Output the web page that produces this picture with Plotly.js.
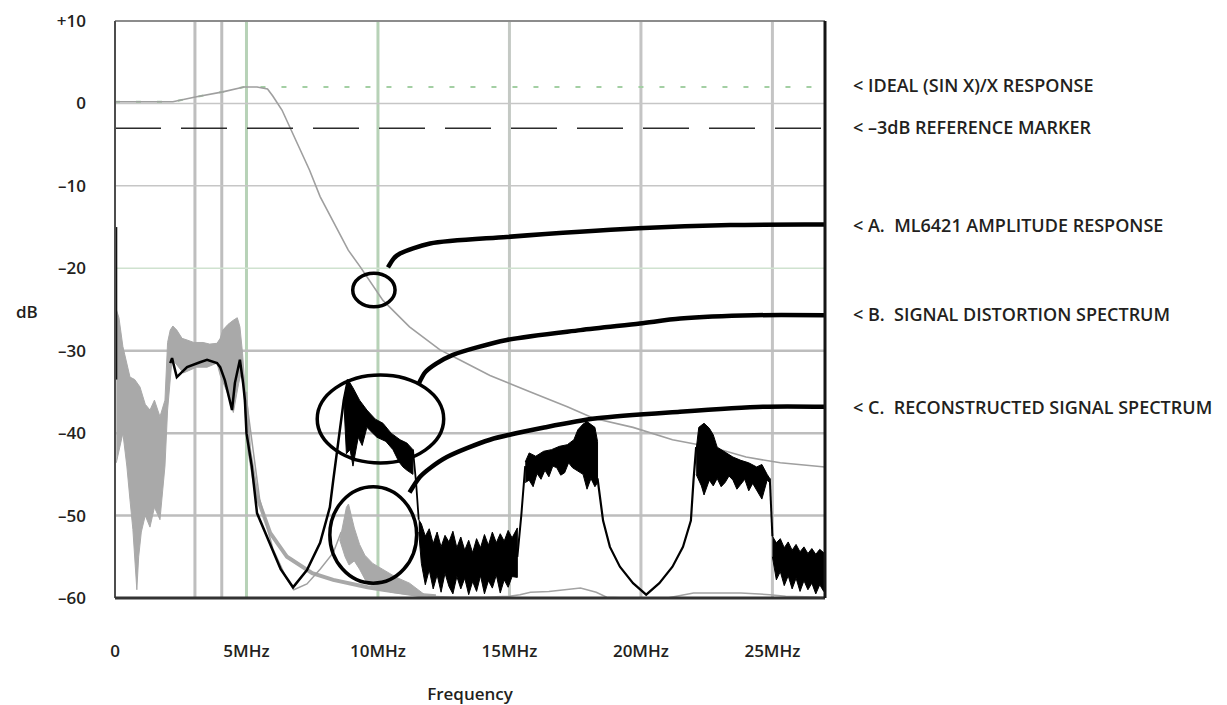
<!DOCTYPE html>
<html>
<head>
<meta charset="utf-8">
<script src="https://cdn.plot.ly/plotly-3.0.1.min.js"></script>
<style>html,body{margin:0;padding:0;background:#fff;}#chart{width:1227px;height:705px;}</style>
</head>
<body>
<div id="chart"></div>
<script>
// ---------- axis / tick data ----------
const xTickVals = [0, 5, 10, 15, 20, 25];
const xTickText = ['0', '5MHz', '10MHz', '15MHz', '20MHz', '25MHz'];
const yTickVals = [10, 0, -10, -20, -30, -40, -50, -60];
const yTickText = ['+10', '0', '–10', '–20', '–30', '–40', '–50', '–60'];

// ---------- reference lines ----------
const idealX = [0, 2.2, 3.1, 4.1, 4.9, 5.5, 27];
const idealY = [0.2, 0.2, 0.8, 1.4, 2.0, 2.0, 2.0];
const refX = [0, 27];
const refY = [-3, -3];

// ---------- A. ML6421 amplitude response ----------
const ampX = [0, 2.2, 3.1, 4.1, 4.9, 5.4, 5.8, 6.0, 6.35, 6.65, 7.03, 7.4, 7.8, 8.06, 8.87, 9.32, 10.19, 11.2, 12.36, 13.1, 14.26, 15.8, 17.2, 18.2, 19.7, 21.2, 22.7, 24.0, 25.3, 27.0];
const ampY = [0.2, 0.2, 0.8, 1.4, 2.0, 2.0, 1.75, 0.9, -0.8, -2.9, -5.6, -8.1, -11.3, -12.9, -17.8, -19.8, -23.9, -27.1, -29.9, -31.1, -33.0, -35.0, -36.8, -38.2, -39.3, -40.8, -41.7, -42.9, -43.6, -44.1];

// ---------- grey spectrum (0-5 MHz band) ----------
const greyUpX = [0.05, 0.15, 0.3, 0.45, 0.57, 0.75, 0.95, 1.15, 1.33, 1.5, 1.71, 1.9, 2.0, 2.1, 2.2, 2.35, 2.55, 2.74, 3.0, 3.35, 3.6, 3.88, 4.0, 4.1, 4.3, 4.5, 4.65, 4.75, 4.85, 4.95];
const greyUpY = [-25, -26, -29.5, -31.5, -33.2, -33.5, -34.4, -36.5, -37.2, -36.0, -38.0, -36.0, -29.0, -27.5, -27.0, -27.5, -28.5, -28.7, -29.0, -29.0, -29.2, -29.1, -28.5, -27.5, -26.8, -26.3, -26.0, -27.1, -30.3, -34.8];
const greyLoX = [0.05, 0.15, 0.3, 0.45, 0.57, 0.68, 0.76, 0.83, 0.9, 1.0, 1.15, 1.33, 1.5, 1.71, 1.9, 2.0, 2.17, 2.6, 3.1, 3.5, 3.88, 4.0, 4.26, 4.5, 4.7, 4.83, 4.95];
const greyLoY = [-43.6, -42, -40, -44, -48.1, -51.7, -55, -59, -55, -52, -50, -51.4, -49, -50.5, -44, -37.2, -31, -32.7, -32, -32, -31.5, -33, -35, -37.5, -34, -32.3, -36];

// grey decays after 5 MHz
const greyThickX = [4.95, 5.1, 5.4, 5.9, 6.54, 7.5, 8.3, 9.0, 9.6, 10.2, 10.8, 11.5, 12.2];
const greyThickY = [-35, -42, -47.7, -52.1, -55.0, -57.0, -57.8, -58.3, -58.7, -59.0, -59.3, -59.6, -59.8];
const greyThinX = [5.0, 5.5, 6.0, 6.5, 6.8, 7.3, 7.8, 8.3, 8.6];
const greyThinY = [-36, -48, -54, -57.5, -59, -58.3, -56.5, -54.5, -52];
const bumpUpX = [8.55, 8.7, 8.8, 8.88, 8.95, 9.1, 9.3, 9.5, 9.8, 10.2, 10.7, 11.2, 11.9];
const bumpUpY = [-53, -50.5, -49.0, -48.6, -49.6, -51.5, -53.5, -54.8, -55.8, -56.6, -57.5, -58.2, -59.8];
const bumpLoX = [8.55, 8.75, 8.9, 9.1, 9.3, 9.6, 10.5, 11.9];
const bumpLoY = [-53, -55, -56, -55.5, -56.5, -58.3, -59.3, -59.9];
const greyFloorX = [11.9, 13.0, 14.0, 15.0, 15.4, 15.8, 16.5, 17.7, 18.3, 18.7, 19.5, 21.0, 22.0, 23.0, 23.8, 24.9, 25.5, 27.0];
const greyFloorY = [-59.8, -59.9, -59.9, -59.8, -59.6, -59.3, -59.2, -58.8, -59.3, -59.9, -60, -60, -59.4, -59.4, -59.4, -59.6, -59.8, -59.9];

// ---------- black spectrum ----------
const spikeX = [0.04, 0.04];
const spikeY = [-15, -33.5];
const blackX = [2.1, 2.17, 2.35, 2.74, 3.23, 3.5, 3.88, 4.0, 4.18, 4.45, 4.56, 4.68, 4.75, 4.87, 4.94, 5.0, 5.2, 5.4, 5.9, 6.3, 6.77, 7.3, 7.8, 8.17, 8.3, 8.44, 8.56, 8.7, 8.86];
const blackY = [-31.5, -30.9, -33.2, -32.0, -31.4, -31.1, -31.5, -32.0, -33.6, -37.2, -33.9, -32.0, -31.1, -33.9, -36.0, -40.0, -44.0, -49.7, -53.5, -56.5, -58.7, -56.6, -53.3, -49.0, -45.7, -42.4, -39.6, -36.0, -33.5];
// peak band around 9-11 MHz
const pkUpX = [8.7, 8.86, 9.05, 9.3, 9.58, 9.9, 10.19, 10.5, 10.84, 11.1, 11.33];
const pkUpY = [-36, -33.5, -34.5, -36.0, -37.2, -38.3, -38.8, -40.0, -40.8, -41.2, -42.0];
const pkLoX = [8.7, 8.8, 8.94, 9.05, 9.25, 9.4, 9.58, 9.8, 9.96, 10.3, 10.57, 10.8, 10.95, 11.1, 11.33];
const pkLoY = [-36, -42.5, -42.0, -44.0, -40.5, -41.5, -39.3, -40.0, -40.5, -41.0, -42.0, -43.5, -44.1, -44.5, -45.0];
const dropAX = [11.33, 11.45, 11.55];
const dropAY = [-42.0, -46.0, -50.5];
// noise floor 11.5-15.3 MHz
const nb1X = [11.55, 11.65, 11.8, 11.95, 12.1, 12.25, 12.4, 12.55, 12.7, 12.85, 13.0, 13.15, 13.3, 13.45, 13.6, 13.75, 13.9, 14.05, 14.2, 14.35, 14.5, 14.65, 14.8, 14.95, 15.1, 15.3];
const nb1UpY = [-50.5, -51.0, -52.5, -51.6, -53.4, -52.0, -53.8, -52.4, -53.2, -51.9, -53.9, -52.6, -54.2, -53.0, -54.5, -52.8, -53.9, -52.3, -53.6, -52.0, -53.3, -52.2, -53.1, -51.8, -52.7, -51.5];
const nb1LoY = [-52.0, -55.8, -58.4, -56.6, -58.9, -57.2, -59.3, -57.0, -58.6, -59.5, -57.4, -58.9, -57.6, -59.6, -58.0, -59.2, -57.3, -59.5, -57.9, -58.8, -57.2, -59.4, -57.8, -58.7, -57.4, -57.5];
const riseX = [15.3, 15.45, 15.6];
const riseY = [-55, -50, -44];
// band 15.6-18.35 MHz
const nb2UpX = [15.6, 15.75, 16.0, 16.3, 16.6, 16.9, 17.2, 17.45, 17.6, 17.8, 17.95, 18.1, 18.25, 18.35];
const nb2UpY = [-43.5, -42.4, -42.8, -42.2, -42.0, -41.6, -41.4, -40.8, -39.6, -38.9, -38.6, -38.9, -39.3, -41.0];
const nb2LoX = [15.6, 15.75, 15.9, 16.05, 16.2, 16.35, 16.5, 16.65, 16.8, 16.95, 17.1, 17.25, 17.4, 17.6, 17.8, 17.95, 18.1, 18.25, 18.35];
const nb2LoY = [-46, -45.7, -46.5, -44.9, -45.6, -44.5, -45.3, -44.0, -44.2, -45.1, -44.8, -43.6, -44.2, -44.6, -45.0, -46.8, -45.5, -46.5, -46.0];
// sinc lobe 18.3-22.1 MHz
const lobeX = [18.35, 18.56, 18.82, 19.2, 19.7, 20.2, 20.7, 21.2, 21.6, 21.9, 22.0, 22.1];
const lobeY = [-45.5, -50.6, -53.8, -56.2, -58.2, -59.6, -58.2, -56.2, -53.8, -50.6, -45.7, -41.7];
// band 22.1-24.9 MHz
const nb3UpX = [22.1, 22.2, 22.4, 22.6, 22.75, 22.9, 23.2, 23.5, 23.8, 24.1, 24.4, 24.6, 24.8, 24.9];
const nb3UpY = [-42.0, -39.3, -38.8, -39.4, -40.2, -41.7, -42.3, -42.9, -43.3, -43.6, -44.1, -43.8, -45.0, -45.5];
const nb3LoX = [22.1, 22.3, 22.4, 22.6, 22.75, 22.9, 23.05, 23.2, 23.35, 23.5, 23.65, 23.8, 23.95, 24.1, 24.25, 24.4, 24.6, 24.8, 24.9];
const nb3LoY = [-45.0, -46.4, -47.5, -45.7, -46.4, -45.5, -46.5, -46.0, -45.2, -45.7, -46.8, -46.2, -45.6, -47.0, -46.1, -46.9, -48.0, -45.7, -46.0];
const dropBX = [24.9, 24.95, 25.0];
const dropBY = [-45.5, -49.0, -52.5];
// noise floor 25-27 MHz
const nb4X = [25.0, 25.15, 25.3, 25.45, 25.6, 25.75, 25.9, 26.05, 26.2, 26.35, 26.5, 26.65, 26.8, 26.95, 27.0];
const nb4UpY = [-52.5, -53.3, -52.8, -53.9, -53.2, -54.2, -53.5, -54.4, -53.8, -54.6, -54.0, -54.7, -54.1, -54.5, -54.3];
const nb4LoY = [-55, -57.8, -56.8, -58.5, -57.3, -58.9, -57.6, -59.2, -57.9, -59.0, -58.2, -59.5, -58.4, -59.2, -58.5];

// ---------- call-out marks ----------
const ellipseNames = ['A', 'B', 'C'];
const ellipseX0 = [9.04, 7.69, 8.17];
const ellipseX1 = [10.65, 12.5, 11.47];
const ellipseY0 = [-20.6, -32.95, -46.5];
const ellipseY1 = [-24.66, -43.62, -58.2];
const leaderAX = [10.38, 10.6, 10.84, 11.98, 14.9, 19.9, 23.4, 27.0];
const leaderAY = [-19.9, -18.8, -18.2, -17.0, -16.2, -15.15, -14.75, -14.7];
const leaderBX = [11.55, 11.8, 12.2, 12.85, 14.9, 17.7, 19.96, 21.5, 24.3, 27.0];
const leaderBY = [-34.0, -32.6, -31.6, -30.5, -28.7, -27.5, -26.7, -26.1, -25.7, -25.7];
const leaderCX = [11.2, 11.6, 12.0, 12.62, 14.26, 16.43, 18.33, 21.48, 24.64, 27.0];
const leaderCY = [-47.2, -45.3, -44.2, -42.9, -40.8, -39.25, -38.2, -37.4, -36.8, -36.8];

const labelTexts = ['< IDEAL (SIN X)/X RESPONSE', '< –3dB REFERENCE MARKER', '< A.  ML6421 AMPLITUDE RESPONSE', '< B.  SIGNAL DISTORTION SPECTRUM', '< C.  RECONSTRUCTED SIGNAL SPECTRUM'];
const labelY = [2.2, -2.9, -14.8, -25.6, -36.8];

// grid lines
const vGridX = [3.04, 4.06, 5, 10, 15, 20, 25];
const vGridColor = ['#bebebe', '#bebebe', '#b7d2b7', '#b7d2b7', '#c4c9c4', '#c4c4c4', '#c4c4c4'];
const hGridY = [0, -10, -20, -30, -40, -50];
const hGridColor = ['#c6c6c6', '#c6c6c6', '#cfe2cf', '#bdbdbd', '#bdbdbd', '#bdbdbd'];
const hGridWidth = [1.5, 1.5, 1.5, 2.5, 2.5, 2.5];

// ---------- build ----------
const FONT = 'Open Sans, sans-serif';
const TXT = '#231f20';

function line(x, y, color, width, extra) {
  return Object.assign({x: x, y: y, type: 'scatter', mode: 'lines', hoverinfo: 'skip', showlegend: false,
    line: {color: color, width: width}}, extra || {});
}
function band(ux, uy, lx, ly, color) {
  return {x: ux.concat(lx.slice().reverse()), y: uy.concat(ly.slice().reverse()), type: 'scatter', mode: 'lines',
    fill: 'toself', fillcolor: color, line: {color: color, width: 1}, hoverinfo: 'skip', showlegend: false};
}

const traces = [
  band(greyUpX, greyUpY, greyLoX, greyLoY, '#a9a9a9'),
  line(greyThickX, greyThickY, '#a8a8a8', 4),
  line(greyThinX, greyThinY, '#a0a0a0', 1.5),
  band(bumpUpX, bumpUpY, bumpLoX, bumpLoY, '#a9a9a9'),
  line(greyFloorX, greyFloorY, '#a3a3a3', 1.5),
  line(idealX, idealY, '#a3cfa3', 2, {line: {color: '#a3cfa3', width: 2, dash: '5px,16px'}}),
  line(ampX, ampY, '#9f9f9f', 1.6),
  line(refX, refY, '#2b2b2b', 1.5, {line: {color: '#2b2b2b', width: 1.5, dash: '46px,20px'}}),
  line(spikeX, spikeY, '#111111', 2.5),
  line(blackX, blackY, '#000000', 2.5),
  band(pkUpX, pkUpY, pkLoX, pkLoY, '#000000'),
  line(dropAX, dropAY, '#000000', 1.8),
  band(nb1X, nb1UpY, nb1X, nb1LoY, '#000000'),
  line(riseX, riseY, '#000000', 2),
  band(nb2UpX, nb2UpY, nb2LoX, nb2LoY, '#000000'),
  line(lobeX, lobeY, '#000000', 2.2),
  band(nb3UpX, nb3UpY, nb3LoX, nb3LoY, '#000000'),
  line(dropBX, dropBY, '#000000', 2),
  band(nb4X, nb4UpY, nb4X, nb4LoY, '#000000'),
  line(leaderAX, leaderAY, '#000000', 4.5, {line: {color: '#000', width: 4.5, shape: 'spline', smoothing: 0.8}, cliponaxis: false}),
  line(leaderBX, leaderBY, '#000000', 4.5, {line: {color: '#000', width: 4.5, shape: 'spline', smoothing: 0.8}, cliponaxis: false}),
  line(leaderCX, leaderCY, '#000000', 4.5, {line: {color: '#000', width: 4.5, shape: 'spline', smoothing: 0.8}, cliponaxis: false})
];

const shapes = [];
vGridX.forEach((gx, i) => shapes.push({type: 'line', xref: 'x', yref: 'paper', x0: gx, x1: gx, y0: 0, y1: 1,
  line: {color: vGridColor[i], width: 3}, layer: 'below'}));
hGridY.forEach((gy, i) => shapes.push({type: 'line', xref: 'paper', yref: 'y', x0: 0, x1: 1, y0: gy, y1: gy,
  line: {color: hGridColor[i], width: hGridWidth[i]}, layer: 'below'}));
// frame
shapes.push({type: 'line', xref: 'paper', yref: 'paper', x0: 0, x1: 1, y0: 1, y1: 1, line: {color: '#8c8c8c', width: 2}});
shapes.push({type: 'line', xref: 'paper', yref: 'paper', x0: 0, x1: 0, y0: 0, y1: 1, line: {color: '#4d4d4d', width: 2}});
shapes.push({type: 'line', xref: 'paper', yref: 'paper', x0: 0, x1: 1, y0: 0, y1: 0, line: {color: '#333333', width: 3}});
shapes.push({type: 'line', xref: 'paper', yref: 'paper', x0: 1, x1: 1, y0: 0, y1: 1, line: {color: '#151515', width: 3}});
// call-out ellipses
ellipseNames.forEach((n, i) => shapes.push({type: 'circle', xref: 'x', yref: 'y',
  x0: ellipseX0[i], x1: ellipseX1[i], y0: ellipseY0[i], y1: ellipseY1[i],
  line: {color: '#000000', width: 3.5}, fillcolor: 'rgba(0,0,0,0)', layer: 'above'}));

const annotations = labelTexts.map((t, i) => ({
  text: t, xref: 'paper', yref: 'y', x: 1.0366, y: labelY[i], xanchor: 'left', yanchor: 'middle',
  showarrow: false, font: {family: FONT, size: 18, color: TXT, weight: 600}
}));
annotations.push({text: 'dB', xref: 'paper', yref: 'paper', x: -0.124, y: 0.497, xanchor: 'center', yanchor: 'middle',
  showarrow: false, font: {family: FONT, size: 17, color: TXT, weight: 600}});

const layout = {
  width: 1227, height: 705,
  margin: {l: 115, r: 402, t: 21, b: 107, pad: 0},
  paper_bgcolor: '#ffffff', plot_bgcolor: '#ffffff',
  showlegend: false, hovermode: false,
  font: {family: FONT, color: TXT, size: 17, weight: 600},
  xaxis: {range: [0, 27], tickvals: xTickVals, ticktext: xTickText, showgrid: false, zeroline: false,
    showline: false, ticks: '', ticklabelstandoff: 41, automargin: false, fixedrange: true,
    tickfont: {family: FONT, size: 17, color: TXT, weight: 600},
    title: {text: 'Frequency', standoff: 29, font: {family: FONT, size: 17, color: TXT, weight: 600}}},
  yaxis: {range: [-60, 10], tickvals: yTickVals, ticktext: yTickText, showgrid: false, zeroline: false,
    showline: false, ticks: '', ticklabelstandoff: 28, automargin: false, fixedrange: true,
    tickfont: {family: FONT, size: 17, color: TXT, weight: 600}},
  shapes: shapes,
  annotations: annotations
};

Plotly.newPlot('chart', traces, layout, {staticPlot: true, displayModeBar: false});
</script>
</body>
</html>
